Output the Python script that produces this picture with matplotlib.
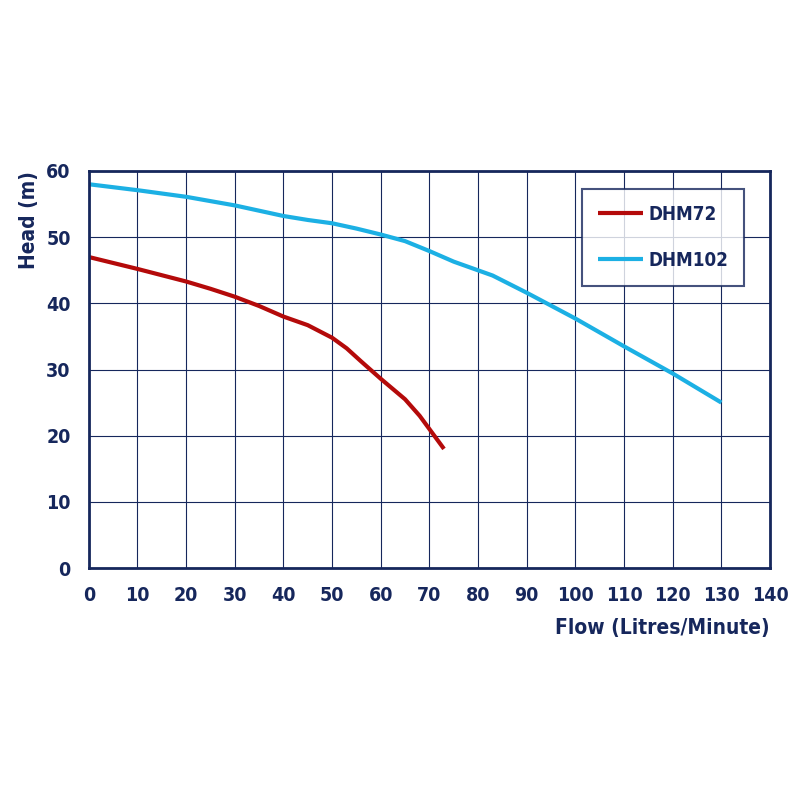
import matplotlib
matplotlib.use("Agg")
import matplotlib.pyplot as plt

flow_72 = [0, 10, 20, 25, 30, 35, 40, 45, 50, 53, 56, 60, 65, 68, 70, 73]
head_72 = [47, 45.2, 43.3, 42.2, 41, 39.6, 38, 36.7, 34.8, 33.2, 31.2, 28.6, 25.5, 23, 21, 18]
flow_102 = [0, 10, 20, 30, 40, 45, 50, 55, 60, 65, 70, 75, 83, 90, 100, 110, 120, 130]
head_102 = [58, 57.1, 56.1, 54.8, 53.2, 52.6, 52.1, 51.3, 50.4, 49.4, 47.9, 46.3, 44.2, 41.6, 37.7, 33.5, 29.4, 25]
xticks = list(range(0, 141, 10))
yticks = list(range(0, 61, 10))

navy = "#16275c"
red = "#b40a0a"
cyan = "#1cb0e4"

plt.rcParams["font.family"] = ["DejaVu Sans"]
plt.rcParams["font.stretch"] = "condensed"
plt.rcParams["font.weight"] = "bold"

fig = plt.figure(figsize=(8, 8), dpi=100)
ax = fig.add_axes([0.111, 0.29, 0.8515, 0.49625])

ax.plot(flow_72, head_72, color=red, lw=3, label="DHM72", solid_capstyle="butt")
ax.plot(flow_102, head_102, color=cyan, lw=3, label="DHM102", solid_capstyle="butt")

ax.set_xlim(0, 140)
ax.set_ylim(0, 60)
ax.set_xticks(xticks)
ax.set_yticks(yticks)
ax.grid(True, color=navy, lw=0.8)
ax.set_axisbelow(True)
ax.tick_params(length=0, labelsize=14, labelcolor=navy)
ax.tick_params(axis="x", pad=13)
ax.tick_params(axis="y", pad=13)
for s in ax.spines.values():
    s.set_color(navy)
    s.set_linewidth(2)

ax.set_xlabel("Flow (Litres/Minute)", loc="right", fontsize=15, color=navy,
              labelpad=9, fontweight="bold")
ax.set_ylabel("Head (m)", loc="top", fontsize=15, color=navy, labelpad=5,
              fontweight="bold")

leg = ax.legend(loc="upper right", bbox_to_anchor=(0.962, 0.955), fontsize=13.5,
                frameon=True, fancybox=False, edgecolor=navy, labelspacing=1.45,
                handlelength=2.4, borderpad=0.85, handletextpad=0.3, borderaxespad=0)
leg.get_frame().set_linewidth(1.5)
for t in leg.get_texts():
    t.set_color(navy)

fig.savefig("out.png", dpi=100)
